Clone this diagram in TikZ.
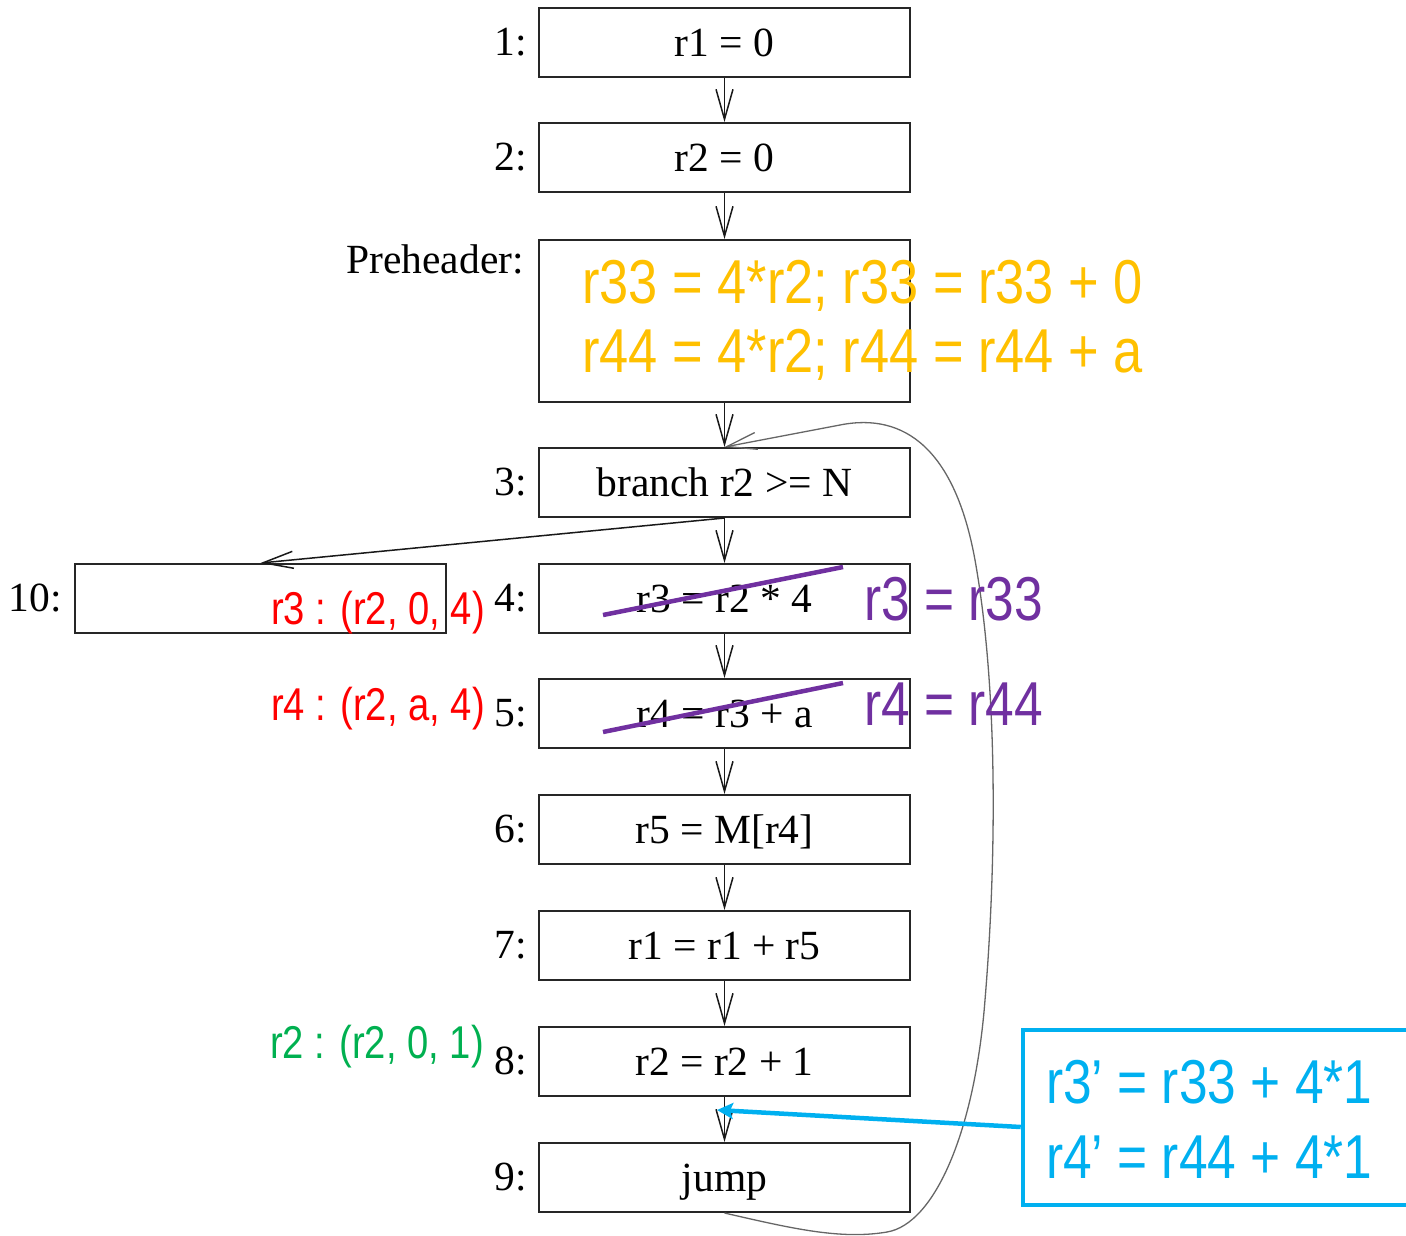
\documentclass[tikz,border=0pt]{standalone}
\usepackage{fontspec}
\setmainfont{Liberation Serif}
\newfontfamily\narrowsans[FakeStretch=0.83]{Liberation Sans}
\newfontfamily\yelsans[FakeStretch=0.845]{Liberation Sans}
\usetikzlibrary{arrows.meta,calc}
\definecolor{cyel}{HTML}{FFC000}
\definecolor{cpur}{HTML}{7030A0}
\definecolor{cred}{HTML}{FF0000}
\definecolor{cgrn}{HTML}{00B050}
\definecolor{cblu}{HTML}{00B0F0}
\begin{document}
\begin{tikzpicture}[x=1pt,y=-1pt,
  box/.style={draw=black!85, line width=2pt, minimum width=371pt, minimum height=69pt,
    inner sep=0pt, text height=27pt, text depth=0pt, font=\fontsize{41.5}{45}\selectfont},
  lab/.style={anchor=base east, inner sep=0pt, font=\fontsize{41.5}{45}\selectfont},
  flow/.style={draw=black!90, line width=1.5pt,
    -{Straight Barb[length=30pt,width=17pt,line width=1.5pt]}},
  backedge/.style={draw=black!60, line width=1.3pt,
    -{Straight Barb[length=30pt,width=17pt,line width=1.3pt]}},
  bigtxt/.style={anchor=base west, inner sep=0pt, font=\narrowsans\fontsize{62}{70}\selectfont},
  yeltxt/.style={anchor=base west, inner sep=0pt, font=\yelsans\fontsize{62}{70}\selectfont},
  smalltxt/.style={anchor=base east, inner sep=0pt, font=\narrowsans\fontsize{46}{50}\selectfont},
  strike/.style={draw=cpur, line width=4.5pt},
  bluebox/.style={draw=cblu, line width=4.5pt, minimum width=387pt, minimum height=175pt, inner sep=0pt},
  bluearrow/.style={draw=cblu, line width=4.5pt, -{Stealth[length=16pt,width=16pt,inset=3pt]}}
]
\useasboundingbox (0,0) rectangle (1406,1235);

% main boxes
\node[box] (b1) at (724.5,42.5) {r1 = 0};
\node[box] (b2) at (724.5,157.5) {r2 = 0};
\node[box, minimum height=162pt] (pre) at (724.5,321) {};
\node[box] (b3) at (724.5,482.5) {branch r2 >= N};
\node[box] (b4) at (724.5,598.5) {r3 = r2 * 4};
\node[box] (b5) at (724.5,713.5) {r4 = r3 + a};
\node[box] (b6) at (724.5,829.5) {r5 = M[r4]};
\node[box] (b7) at (724.5,945.5) {r1 = r1 + r5};
\node[box] (b8) at (724.5,1061.5) {r2 = r2 + 1};
\node[box] (b9) at (724.5,1177.5) {jump};
\node[box] (b10) at (260.5,598.5) {};

% labels
\node[lab] (l1) at (527,55) {1:};
\node[lab] (l2) at (527,170) {2:};
\node[lab] (lp) at (524,273) {Preheader:};
\node[lab] (l3) at (527,495) {3:};
\node[lab] (l4) at (527,611) {4:};
\node[lab] (l5) at (527,726) {5:};
\node[lab] (l6) at (527,842) {6:};
\node[lab] (l7) at (527,958) {7:};
\node[lab] (l8) at (527,1074) {8:};
\node[lab] (l9) at (527,1190) {9:};
\node[lab] (l10) at (62,611) {10:};

% flow arrows
\draw[flow] (b1.south) -- (b2.north);
\draw[flow] (b2.south) -- (pre.north);
\draw[flow] (pre.south) -- (b3.north);
\draw[flow] (b3.south) -- (b4.north);
\draw[flow] (b4.south) -- (b5.north);
\draw[flow] (b5.south) -- (b6.north);
\draw[flow] (b6.south) -- (b7.north);
\draw[flow] (b7.south) -- (b8.north);
\draw[flow] (b8.south) -- (b9.north);
\draw[flow] (b3.south) -- (b10.north);

% back edge
\draw[backedge] (b9.south) .. controls (790,1228) and (840,1240) .. (887,1232)
  .. controls (935,1224) and (975,1130) .. (985,1000)
  .. controls (995,880) and (1000,700) .. (975,560)
  .. controls (955,450) and (905,412) .. (840,425)
  -- (b3.north);

% yellow preheader code
\node[yeltxt, text=cyel] (y1) at (582,303) {r33 = 4*r2; r33 = r33 + 0};
\node[yeltxt, text=cyel] (y2) at (582,372) {r44 = 4*r2; r44 = r44 + a};

% strike-throughs
\draw[strike] (603,615) -- (843,567);
\draw[strike] (603,732) -- (843,683);

% purple replacements
\node[bigtxt, text=cpur] (p1) at (864,620) {r3 = r33};
\node[bigtxt, text=cpur] (p2) at (864,725) {r4 = r44};

% induction variable annotations
\node[smalltxt, text=cred] (i3) at (485,624) {r3 : (r2, 0, 4)};
\node[smalltxt, text=cred] (i4) at (485,720) {r4 : (r2, a, 4)};
\node[smalltxt, text=cgrn] (i2) at (484,1058) {r2 : (r2, 0, 1)};

% blue box
\node[bluebox] (bb) at (1216.5,1117.5) {};
\node[bigtxt, text=cblu] (q1) at (1046,1103) {r3’ = r33 + 4*1};
\node[bigtxt, text=cblu] (q2) at (1046,1178) {r4’ = r44 + 4*1};
\coordinate (c89) at (717,1110);
\draw[bluearrow] ($(bb.west)+(0,9.5)$) -- (c89);
\end{tikzpicture}
\end{document}
